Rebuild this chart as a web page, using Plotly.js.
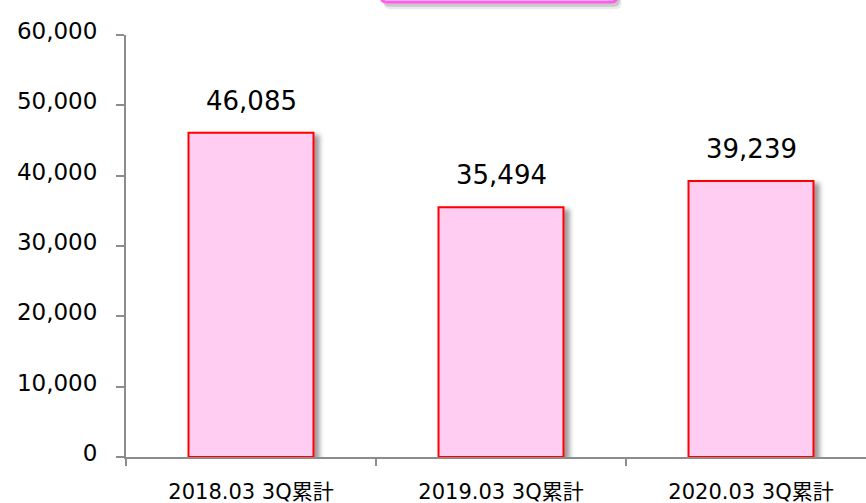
<!DOCTYPE html>
<html>
<head>
<meta charset="utf-8">
<script src="https://cdn.plot.ly/plotly-3.0.1.min.js"></script>
<style>
html,body{margin:0;padding:0;background:#fff;}
#chart{width:866px;height:503px;}
</style>
</head>
<body>
<div id="chart"></div>
<script>
const categories = ["2018.03 3Q累計", "2019.03 3Q累計", "2020.03 3Q累計"];
const values = [46085, 35494, 39239];
const yTickVals = [0, 10000, 20000, 30000, 40000, 50000, 60000];
const yTickText = ["0", "10,000", "20,000", "30,000", "40,000", "50,000", "60,000"];

const FONT = "DejaVu Sans, Verdana, Noto Sans CJK JP, sans-serif";
const AXIS = "#8c8c8c";

const trace = {
  type: "bar",
  x: categories,
  y: values,
  marker: { color: "#ffccf2", line: { color: "#ff0000", width: 2 } },
  hoverinfo: "none",
  cliponaxis: true
};

const annotations = categories.map((c, i) => ({
  x: c, y: values[i], xref: "x", yref: "y",
  text: values[i].toLocaleString("en-US"),
  showarrow: false, yanchor: "middle", yshift: 32,
  font: { family: FONT, size: 26, color: "#000" }
}));

// top decorative box (partially visible at top edge)
const bx0 = 0.3446, bx1 = 0.6635, by0 = 1.078, by1 = 1.25, r = 0.008, ry = 0.014;
function rrect(x0, y0, x1, y1) {
  return `M${x0 + r},${y0} L${x1 - r},${y0} Q${x1},${y0} ${x1},${y0 + ry} L${x1},${y1} L${x0},${y1} L${x0},${y0 + ry} Q${x0},${y0} ${x0 + r},${y0} Z`;
}
const shapes = [
  { type: "path", xref: "paper", yref: "paper", path: rrect(bx0 + 0.004, by0 - 0.017, bx1 + 0.006, by1), fillcolor: "rgba(0,0,0,0.08)", line: { width: 0 } },
  { type: "path", xref: "paper", yref: "paper", path: rrect(bx0 + 0.003, by0 - 0.011, bx1 + 0.004, by1), fillcolor: "rgba(0,0,0,0.14)", line: { width: 0 } },
  { type: "path", xref: "paper", yref: "paper", path: rrect(bx0, by0, bx1, by1), fillcolor: "#ffffff", line: { color: "#ff5cf0", width: 3 } }
];

const layout = {
  width: 866, height: 503,
  margin: { l: 126, r: 0, t: 35, b: 46, pad: 0 },
  paper_bgcolor: "#fff", plot_bgcolor: "#fff",
  showlegend: false,
  bargap: 0.5,
  font: { family: FONT, color: "#000" },
  xaxis: {
    type: "category",
    range: [-0.5, 2.46],
    showline: true, linecolor: AXIS, linewidth: 2,
    ticks: "outside", tickson: "boundaries", ticklen: 7, tickcolor: AXIS, tickwidth: 2,
    showgrid: false, zeroline: false,
    tickfont: { family: FONT, size: 21, color: "#000" },
    ticklabelstandoff: 15,
    fixedrange: true
  },
  yaxis: {
    range: [0, 60000],
    tickvals: yTickVals, ticktext: yTickText,
    showline: true, linecolor: AXIS, linewidth: 2,
    ticks: "outside", ticklen: 8, tickcolor: AXIS, tickwidth: 2,
    showgrid: false, zeroline: false,
    tickfont: { family: FONT, size: 23, color: "#000" },
    ticklabelstandoff: 14,
    ticklabelshift: -4,
    fixedrange: true
  },
  annotations: annotations,
  shapes: shapes
};

Plotly.newPlot("chart", [trace], layout, { staticPlot: true, displayModeBar: false }).then(() => {
  const svg = document.querySelector("#chart .main-svg");
  const NS = "http://www.w3.org/2000/svg";
  let defs = svg.querySelector("defs");
  if (!defs) { defs = document.createElementNS(NS, "defs"); svg.insertBefore(defs, svg.firstChild); }
  const f = document.createElementNS(NS, "filter");
  f.setAttribute("id", "barshadow");
  f.setAttribute("x", "-20%"); f.setAttribute("y", "-20%");
  f.setAttribute("width", "160%"); f.setAttribute("height", "160%");
  const ds = document.createElementNS(NS, "feDropShadow");
  ds.setAttribute("dx", "5"); ds.setAttribute("dy", "3");
  ds.setAttribute("stdDeviation", "2.5");
  ds.setAttribute("flood-color", "#000"); ds.setAttribute("flood-opacity", "0.4");
  f.appendChild(ds);
  defs.appendChild(f);
  svg.querySelectorAll(".bars .point path").forEach(p => p.setAttribute("filter", "url(#barshadow)"));
});
</script>
</body>
</html>
